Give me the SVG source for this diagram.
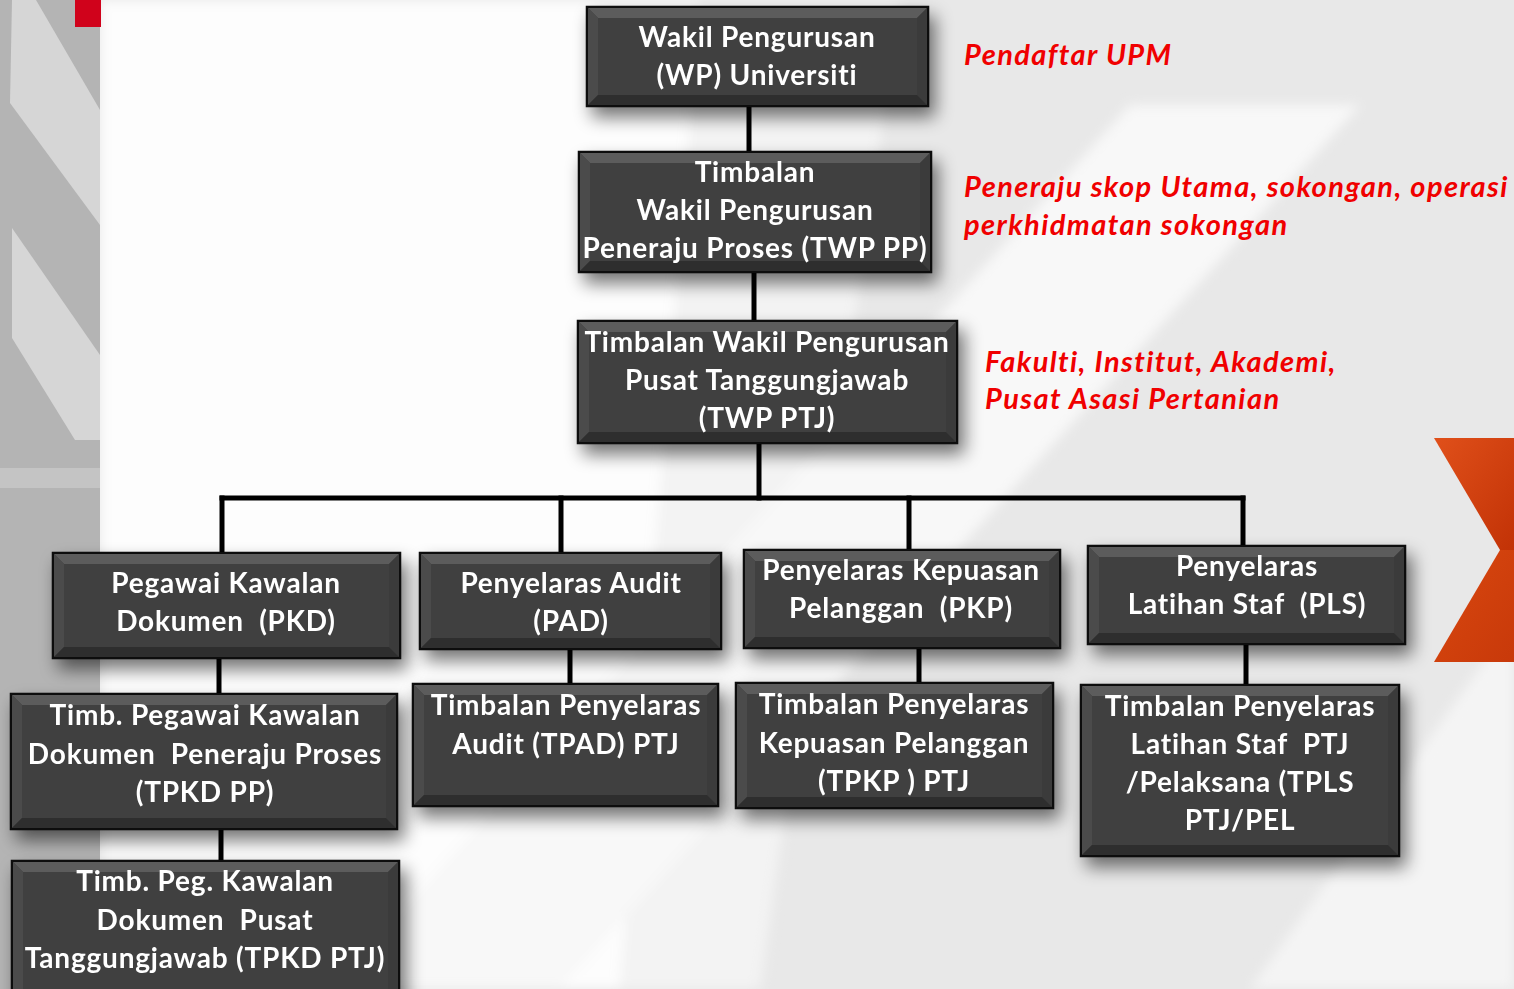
<svg xmlns="http://www.w3.org/2000/svg" width="1514" height="989" viewBox="0 0 1514 989">
<defs>
<style>
.t{font-family:Lato,"Open Sans","Liberation Sans",sans-serif;font-weight:700;font-size:28px;letter-spacing:0.8px;fill:#ffffff;text-anchor:middle;white-space:pre}
.r{font-family:Lato,"Open Sans","Liberation Sans",sans-serif;font-weight:700;font-style:italic;font-size:29px;letter-spacing:1.4px;fill:#f00000}
.box{fill:#414141;stroke:#111;stroke-width:2.5}
.bt{fill:#5c5c5c}
.bl{fill:#4b4b4b}
.br{fill:#3a3a3a}
.bb{fill:#2f2f2f}
.ln{stroke:#000;stroke-width:5;fill:none;stroke-linecap:square}
</style>
<filter id="sh" x="-20%" y="-20%" width="140%" height="160%">
<feGaussianBlur in="SourceAlpha" stdDeviation="9"/>
<feOffset dx="6" dy="10" result="b"/>
<feComponentTransfer><feFuncA type="linear" slope="0.55"/></feComponentTransfer>
<feMerge><feMergeNode/><feMergeNode in="SourceGraphic"/></feMerge>
</filter>
<filter id="bl"><feGaussianBlur stdDeviation="6"/></filter>
<linearGradient id="og1" x1="0" y1="0" x2="1" y2="1"><stop offset="0" stop-color="#e0501a"/><stop offset="1" stop-color="#c23206"/></linearGradient>
<linearGradient id="og2" x1="0" y1="0" x2="1" y2="1"><stop offset="0" stop-color="#d9480f"/><stop offset="1" stop-color="#c8390a"/></linearGradient>
</defs>

<g id="background">
<rect x="0" y="0" width="1514" height="989" fill="#e8e8e8"/>
<g filter="url(#bl)">
<polygon points="100,0 700,0 620,989 100,989" fill="#fdfdfd"/>
<polygon points="700,0 900,0 760,989 620,989" fill="#f3f3f3"/>
<polygon points="1130,105 1360,105 560,989 330,989" fill="#f8f8f8"/>
<polygon points="1514,620 1514,989 1250,989" fill="#f4f4f4"/>
</g>
<rect x="0" y="0" width="100" height="989" fill="#b4b4b4"/>
<polygon points="12,0 36,0 100,110 100,225 10,103" fill="#d6d6d6"/>
<polygon points="12,228 100,355 100,440 75,440 12,338" fill="#d6d6d6"/>
<rect x="0" y="468" width="100" height="20" fill="#c4c4c4"/>
<rect x="75" y="0" width="26" height="27" fill="#d0021b"/>
<g id="chevron">
<polygon points="1434,438 1514,438 1514,550 1500,550" fill="url(#og1)"/>
<polygon points="1500,550 1514,550 1514,662 1434,662" fill="url(#og2)"/>
</g>
</g>

<g id="connectors">
<line class="ln" x1="749" y1="106" x2="749" y2="152"/>
<line class="ln" x1="754" y1="272" x2="754" y2="321"/>
<line class="ln" x1="759" y1="443" x2="759" y2="498"/>
<line class="ln" x1="222" y1="498" x2="1243" y2="498"/>
<line class="ln" x1="222" y1="498" x2="222" y2="553"/>
<line class="ln" x1="561" y1="498" x2="561" y2="553"/>
<line class="ln" x1="909" y1="498" x2="909" y2="550"/>
<line class="ln" x1="1243" y1="498" x2="1243" y2="546"/>
<line class="ln" x1="219" y1="658" x2="219" y2="694"/>
<line class="ln" x1="221" y1="829" x2="221" y2="861"/>
<line class="ln" x1="570" y1="649" x2="570" y2="684"/>
<line class="ln" x1="919" y1="648" x2="919" y2="683"/>
<line class="ln" x1="1246" y1="644" x2="1246" y2="685"/>
</g>

<g id="n-wp" filter="url(#sh)">
<rect class="box" x="587" y="7" width="341" height="99"/>
<polygon class="bt" points="588,8 927,8 917,18 598,18"/>
<polygon class="bl" points="588,8 598,18 598,95 588,105"/>
<polygon class="br" points="927,8 917,18 917,95 927,105"/>
<polygon class="bb" points="588,105 598,95 917,95 927,105"/>
<text class="t" x="757" y="47">Wakil Pengurusan</text>
<text class="t" x="757" y="85">(WP) Universiti</text>
</g>

<g id="n-twppp" filter="url(#sh)">
<rect class="box" x="579" y="152" width="352" height="120"/>
<polygon class="bt" points="580,153 930,153 920,163 590,163"/>
<polygon class="bl" points="580,153 590,163 590,261 580,271"/>
<polygon class="br" points="930,153 920,163 920,261 930,271"/>
<polygon class="bb" points="580,271 590,261 920,261 930,271"/>
<text class="t" x="755" y="182">Timbalan</text>
<text class="t" x="755" y="220">Wakil Pengurusan</text>
<text class="t" x="755" y="258">Peneraju Proses (TWP PP)</text>
</g>

<g id="n-twpptj" filter="url(#sh)">
<rect class="box" x="578" y="321" width="379" height="122"/>
<polygon class="bt" points="579,322 956,322 946,332 589,332"/>
<polygon class="bl" points="579,322 589,332 589,432 579,442"/>
<polygon class="br" points="956,322 946,332 946,432 956,442"/>
<polygon class="bb" points="579,442 589,432 946,432 956,442"/>
<text class="t" x="767" y="352">Timbalan Wakil Pengurusan</text>
<text class="t" x="767" y="390">Pusat Tanggungjawab</text>
<text class="t" x="767" y="428">(TWP PTJ)</text>
</g>

<g id="n-pkd" filter="url(#sh)">
<rect class="box" x="53" y="553" width="347" height="105"/>
<polygon class="bt" points="54,554 399,554 389,564 64,564"/>
<polygon class="bl" points="54,554 64,564 64,647 54,657"/>
<polygon class="br" points="399,554 389,564 389,647 399,657"/>
<polygon class="bb" points="54,657 64,647 389,647 399,657"/>
<text class="t" x="226" y="593">Pegawai Kawalan</text>
<text class="t" x="226" y="631">Dokumen  (PKD)</text>
</g>

<g id="n-pad" filter="url(#sh)">
<rect class="box" x="420" y="553" width="301" height="96"/>
<polygon class="bt" points="421,554 720,554 710,564 431,564"/>
<polygon class="bl" points="421,554 431,564 431,638 421,648"/>
<polygon class="br" points="720,554 710,564 710,638 720,648"/>
<polygon class="bb" points="421,648 431,638 710,638 720,648"/>
<text class="t" x="571" y="593">Penyelaras Audit</text>
<text class="t" x="571" y="631">(PAD)</text>
</g>

<g id="n-pkp" filter="url(#sh)">
<rect class="box" x="744" y="550" width="316" height="98"/>
<polygon class="bt" points="745,551 1059,551 1049,561 755,561"/>
<polygon class="bl" points="745,551 755,561 755,637 745,647"/>
<polygon class="br" points="1059,551 1049,561 1049,637 1059,647"/>
<polygon class="bb" points="745,647 755,637 1049,637 1059,647"/>
<text class="t" x="901" y="580">Penyelaras Kepuasan</text>
<text class="t" x="901" y="618">Pelanggan  (PKP)</text>
</g>

<g id="n-pls" filter="url(#sh)">
<rect class="box" x="1088" y="546" width="317" height="98"/>
<polygon class="bt" points="1089,547 1404,547 1394,557 1099,557"/>
<polygon class="bl" points="1089,547 1099,557 1099,633 1089,643"/>
<polygon class="br" points="1404,547 1394,557 1394,633 1404,643"/>
<polygon class="bb" points="1089,643 1099,633 1394,633 1404,643"/>
<text class="t" x="1247" y="576">Penyelaras</text>
<text class="t" x="1247" y="614">Latihan Staf  (PLS)</text>
</g>

<g id="n-tpkdpp" filter="url(#sh)">
<rect class="box" x="11" y="694" width="386" height="135"/>
<polygon class="bt" points="12,695 396,695 386,705 22,705"/>
<polygon class="bl" points="12,695 22,705 22,818 12,828"/>
<polygon class="br" points="396,695 386,705 386,818 396,828"/>
<polygon class="bb" points="12,828 22,818 386,818 396,828"/>
<text class="t" x="205" y="725">Timb. Pegawai Kawalan</text>
<text class="t" x="205" y="764">Dokumen  Peneraju Proses</text>
<text class="t" x="205" y="802">(TPKD PP)</text>
</g>

<g id="n-tpkdptj" filter="url(#sh)">
<rect class="box" x="12" y="861" width="387" height="140"/>
<polygon class="bt" points="13,862 398,862 388,872 23,872"/>
<polygon class="bl" points="13,862 23,872 23,1000 13,1000"/>
<polygon class="br" points="398,862 388,872 388,1000 398,1000"/>
<text class="t" x="205" y="891">Timb. Peg. Kawalan</text>
<text class="t" x="205" y="930">Dokumen  Pusat</text>
<text class="t" x="205" y="968">Tanggungjawab (TPKD PTJ)</text>
</g>

<g id="n-tpad" filter="url(#sh)">
<rect class="box" x="413" y="684" width="305" height="122"/>
<polygon class="bt" points="414,685 717,685 707,695 424,695"/>
<polygon class="bl" points="414,685 424,695 424,795 414,805"/>
<polygon class="br" points="717,685 707,695 707,795 717,805"/>
<polygon class="bb" points="414,805 424,795 707,795 717,805"/>
<text class="t" x="566" y="715">Timbalan Penyelaras</text>
<text class="t" x="566" y="754">Audit (TPAD) PTJ</text>
</g>

<g id="n-tpkp" filter="url(#sh)">
<rect class="box" x="736" y="683" width="317" height="125"/>
<polygon class="bt" points="737,684 1052,684 1042,694 747,694"/>
<polygon class="bl" points="737,684 747,694 747,797 737,807"/>
<polygon class="br" points="1052,684 1042,694 1042,797 1052,807"/>
<polygon class="bb" points="737,807 747,797 1042,797 1052,807"/>
<text class="t" x="894" y="714">Timbalan Penyelaras</text>
<text class="t" x="894" y="753">Kepuasan Pelanggan</text>
<text class="t" x="894" y="791">(TPKP ) PTJ</text>
</g>

<g id="n-tpls" filter="url(#sh)">
<rect class="box" x="1081" y="685" width="318" height="171"/>
<polygon class="bt" points="1082,686 1398,686 1388,696 1092,696"/>
<polygon class="bl" points="1082,686 1092,696 1092,845 1082,855"/>
<polygon class="br" points="1398,686 1388,696 1388,845 1398,855"/>
<polygon class="bb" points="1082,855 1092,845 1388,845 1398,855"/>
<text class="t" x="1240" y="716">Timbalan Penyelaras</text>
<text class="t" x="1240" y="754">Latihan Staf  PTJ</text>
<text class="t" x="1240" y="792">/Pelaksana (TPLS</text>
<text class="t" x="1240" y="830">PTJ/PEL</text>
</g>

<g id="notes">
<text class="r" x="964" y="65">Pendaftar UPM</text>
<text class="r" x="964" y="197">Peneraju skop Utama, sokongan, operasi</text>
<text class="r" x="964" y="235">perkhidmatan sokongan</text>
<text class="r" x="985" y="372">Fakulti, Institut, Akademi,</text>
<text class="r" x="985" y="409">Pusat Asasi Pertanian</text>
</g>
</svg>
